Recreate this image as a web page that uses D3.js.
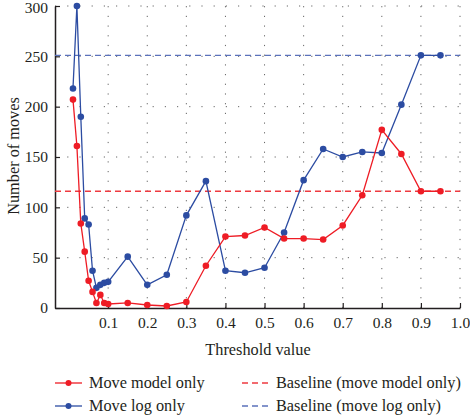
<!DOCTYPE html>
<html><head><meta charset="utf-8">
<script src="https://cdn.jsdelivr.net/npm/d3@7"></script>
</head><body style="margin:0;background:#fff">
<script>
const thresholds = [0.01,0.02,0.03,0.04,0.05,0.06,0.07,0.08,0.09,0.1,0.15,0.2,0.25,0.3,0.35,0.4,0.45,0.5,0.55,0.6,0.65,0.7,0.75,0.8,0.85,0.9,0.95];
const moveModelOnly = [207,161,84,56,27,16,5,13,5,4,5,3,2,6,42,71,72,80,69,69,68,82,112,177,153,116,116];
const moveLogOnly = [218,300,190,89,83,37,20,23,25,26,51,23,33,92,126,37,35,40,75,127,158,150,155,154,202,251,251];
const baselineModel = 116;
const baselineLog = 251;
const xTicks = [0.1,0.2,0.3,0.4,0.5,0.6,0.7,0.8,0.9,1.0];
const yTicks = [0,50,100,150,200,250,300];
const seriesNames = ["Move model only","Move log only"];
const baselineNames = ["Baseline (move model only)","Baseline (move log only)"];
const colors = {red:"#ee1c25", blue:"#2c4ca2", redBase:"#ee3a40", blueBase:"#5b72bb"};
const FONT = "'Liberation Serif'";
const INK = "#231f20";

const W=470,H=415;
const svg=d3.select("body").append("svg").attr("width",W).attr("height",H).style("display","block").attr("font-family","Liberation Serif");
const x=d3.scaleLinear().domain([-0.036,1.0]).range([55,460]);
const y=d3.scaleLinear().domain([0,300]).range([308,6]);

// grid
const g=svg.append("g");
g.selectAll(".vg").data(xTicks).enter().append("line")
 .attr("x1",d=>x(d)).attr("x2",d=>x(d)).attr("y1",y(0)).attr("y2",y(300))
 .attr("stroke","#666").attr("stroke-width",1).attr("stroke-dasharray","1.2,8.5");
g.selectAll(".hg").data(yTicks.filter(d=>d>0)).enter().append("line")
 .attr("x1",x(-0.036)).attr("x2",x(1.0)).attr("y1",d=>y(d)).attr("y2",d=>y(d))
 .attr("stroke","#666").attr("stroke-width",1).attr("stroke-dasharray","1.2,11");

// axes
const xa=svg.append("g").attr("transform",`translate(0,${y(0)})`)
 .call(d3.axisBottom(x).tickValues(xTicks).tickFormat(d3.format(".1f")).tickSizeInner(-5).tickSizeOuter(0).tickPadding(9));
const ya=svg.append("g").attr("transform",`translate(${x(-0.036)},0)`)
 .call(d3.axisLeft(y).tickValues(yTicks).tickSizeInner(-5).tickSizeOuter(0).tickPadding(7));
[xa,ya].forEach(a=>{
 a.attr("font-family","Liberation Serif").attr("font-size",15.5);
 a.select(".domain").attr("stroke",INK).attr("stroke-width",1.5);
 a.selectAll(".tick line").attr("stroke",INK).attr("stroke-width",1.2);
 a.selectAll("text").style("font-family",FONT).attr("font-size",15.5).attr("fill",INK);});
ya.selectAll("text").filter(d=>d===300).attr("dy","0.4em");

// baselines
svg.append("line").attr("x1",x(-0.036)).attr("x2",x(1.0)).attr("y1",y(baselineModel)).attr("y2",y(baselineModel))
 .attr("stroke",colors.redBase).attr("stroke-width",1.3).attr("stroke-dasharray","6,4");
svg.append("line").attr("x1",x(-0.036)).attr("x2",x(1.0)).attr("y1",y(baselineLog)).attr("y2",y(baselineLog))
 .attr("stroke",colors.blueBase).attr("stroke-width",1.3).attr("stroke-dasharray","6,4");

const line=d3.line().x(d=>x(d[0])).y(d=>y(d[1]));
function series(vals,col){
  const data=thresholds.map((t,i)=>[t,vals[i]]);
  svg.append("path").datum(data).attr("d",line).attr("fill","none").attr("stroke",col).attr("stroke-width",1.3);
  svg.append("g").selectAll("circle").data(data).enter().append("circle")
   .attr("cx",d=>x(d[0])).attr("cy",d=>y(d[1])).attr("r",3.3).attr("fill",col);
}
series(moveLogOnly,colors.blue);
series(moveModelOnly,colors.red);

function txt(sel){return sel.style("font-family",FONT).attr("font-size",16.3).attr("fill",INK);}
// titles
txt(svg.append("text").attr("x",258).attr("y",355).attr("text-anchor","middle").text("Threshold value"));
txt(svg.append("text").attr("transform","translate(19,156) rotate(-90)").attr("text-anchor","middle").text("Number of moves"));

// legend
const leg=[
 {x:55,y:383,col:colors.red,dash:null,label:seriesNames[0]},
 {x:55,y:406,col:colors.blue,dash:null,label:seriesNames[1]},
 {x:242,y:383,col:colors.redBase,dash:"6,4",label:baselineNames[0]},
 {x:242,y:406,col:colors.blueBase,dash:"6,4",label:baselineNames[1]}];
leg.forEach(l=>{
  svg.append("line").attr("x1",l.x).attr("x2",l.x+27).attr("y1",l.y).attr("y2",l.y)
   .attr("stroke",l.col).attr("stroke-width",1.3).attr("stroke-dasharray",l.dash);
  if(!l.dash) svg.append("circle").attr("cx",l.x+13.5).attr("cy",l.y).attr("r",3).attr("fill",l.col);
  txt(svg.append("text").attr("x",l.x+34).attr("y",l.y+5).text(l.label));
});
</script></body></html>
